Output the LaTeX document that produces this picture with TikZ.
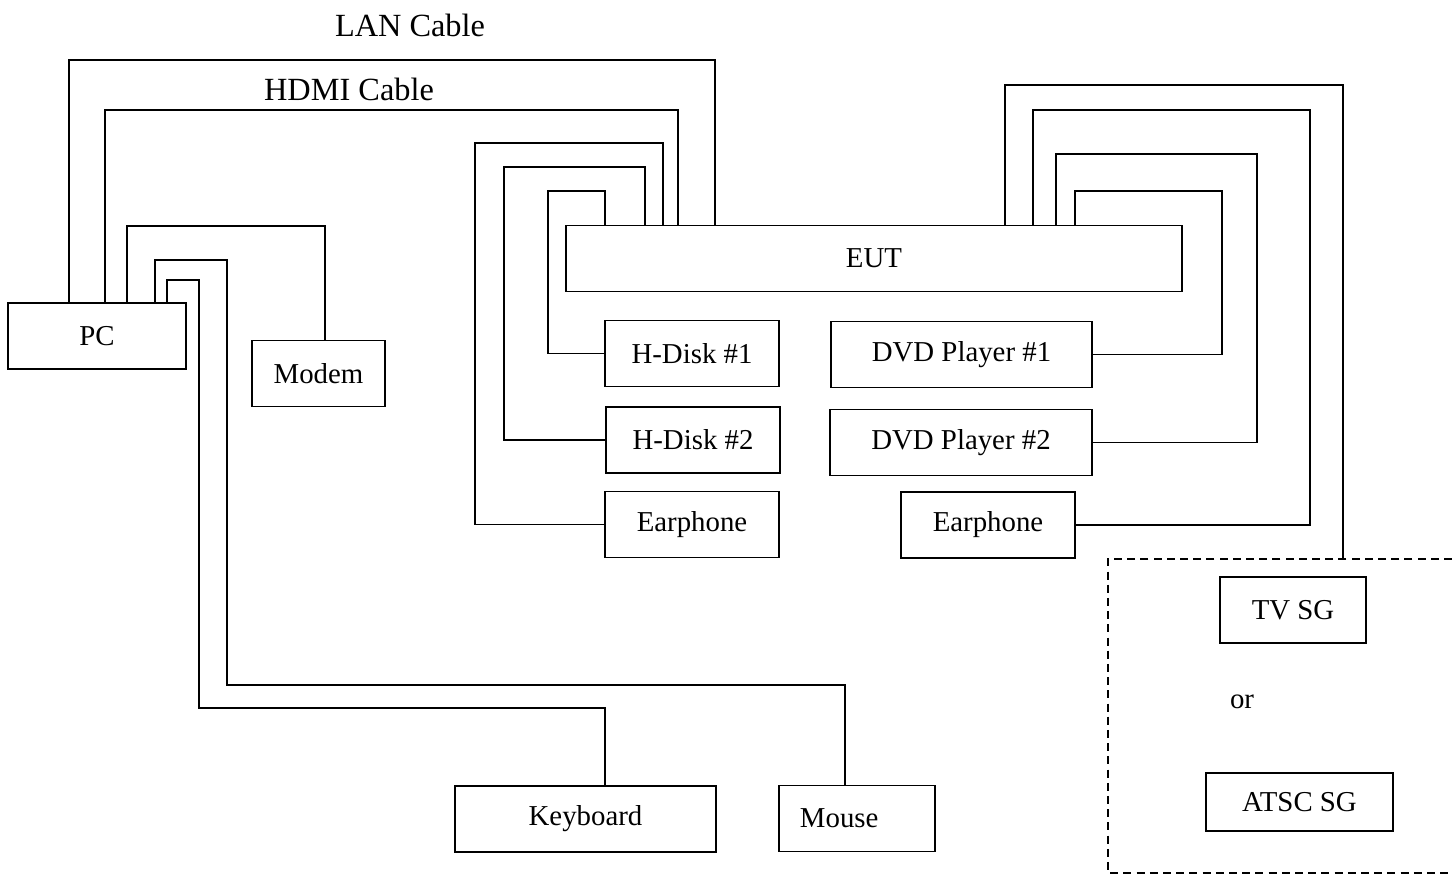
\documentclass[tikz,border=0pt]{standalone}
\usepackage{fontspec}
\setmainfont{Liberation Serif}
\usetikzlibrary{positioning, calc}

\begin{document}
\begin{tikzpicture}[
    x = 0.025cm, y = -0.025cm,
    box/.style = {
      rectangle, draw, line width = 1.3pt,
      minimum height = 1.65cm, inner sep = 0pt,
      font = \fontsize{20.5}{24}\selectfont
    },
    lbl/.style = {font = \fontsize{20.5}{24}\selectfont, inner sep = 0pt},
    cablelbl/.style = {font = \fontsize{23}{27}\selectfont, inner sep = 0pt},
    wire/.style = {line width = 1.3pt},
    zone/.style = {line width = 1.1pt, dash pattern = on 0.2cm off 0.13cm}
  ]
  \useasboundingbox (0,0) rectangle (1452,875);

  % ---- PC side ----
  \node[box, minimum width = 4.45cm] (pc)    at (97,336)    {PC};
  \node[box, minimum width = 3.33cm] (modem) at (318.5,373.5) {Modem};
  \node[box, minimum width = 6.53cm] (keyb)  at (585.5,819) {Keyboard};
  \node[box, minimum width = 3.9cm, text width = 2.85cm, align = left,
        inner xsep = 0.525cm] (mouse) at (857,818.5) {Mouse};

  % ---- EUT and its peripherals ----
  \node[box, minimum width = 15.4cm] (eut)    at (874,258.5) {EUT};
  \node[box, minimum width = 4.35cm] (hdisk1) at (692,353.5) {H-Disk \#1};
  \node[box, minimum width = 4.35cm] (hdisk2) at (693,440)   {H-Disk \#2};
  \node[box, minimum width = 4.35cm] (earl)   at (692,524.5) {Earphone};
  \node[box, minimum width = 6.53cm] (dvd1)   at (961.5,354.5) {DVD Player \#1};
  \node[box, minimum width = 6.55cm] (dvd2)   at (961,442.5) {DVD Player \#2};
  \node[box, minimum width = 4.35cm] (earr)   at (988,525)   {Earphone};

  % ---- signal generators ----
  \coordinate (sgzone) at (1108,559);
  \node[box, minimum width = 3.65cm] (tvsg) at (1293,610)   {TV SG};
  \node[lbl] (orlbl) at (1242,702) {or};
  \node[box, minimum width = 4.68cm, minimum height = 1.45cm] (atsc) at (1299.5,802) {ATSC SG};
  \draw[zone] (1452,0 |- sgzone) -- (sgzone) -- (1108,873) -- (1452,873);

  % cable labels
  \node[cablelbl] (lan)  at (410,25) {LAN Cable};
  \node[cablelbl] (hdmi) at (349,89) {HDMI Cable};

  % PC cables
  \draw[wire] (69,0 |- pc.north)  |- (715,60)  -- (715,0 |- eut.north);
  \draw[wire] (105,0 |- pc.north) |- (678,110) -- (678,0 |- eut.north);
  \draw[wire] (127,0 |- pc.north) |- (325,226) -- (325,0 |- modem.north);
  \draw[wire] (155,0 |- pc.north) |- (227,260) |- (845,685) -- (845,0 |- mouse.north);
  \draw[wire] (167,0 |- pc.north) |- (199,280) |- (605,708) -- (605,0 |- keyb.north);

  % EUT cables, left
  \draw[wire] (605,0 |- eut.north) |- (548,191) |- (hdisk1.west);
  \draw[wire] (645,0 |- eut.north) |- (504,167) |- (hdisk2.west);
  \draw[wire] (663,0 |- eut.north) |- (475,143) |- (earl.west);

  % EUT cables, right
  \draw[wire] (1075,0 |- eut.north) |- (1222,191) |- (dvd1.east);
  \draw[wire] (1056,0 |- eut.north) |- (1257,154) |- (dvd2.east);
  \draw[wire] (1033,0 |- eut.north) |- (1310,110) |- (earr.east);
  \draw[wire] (1005,0 |- eut.north) |- (1343,85)  -- (1343,0 |- sgzone);

\end{tikzpicture}
\end{document}
